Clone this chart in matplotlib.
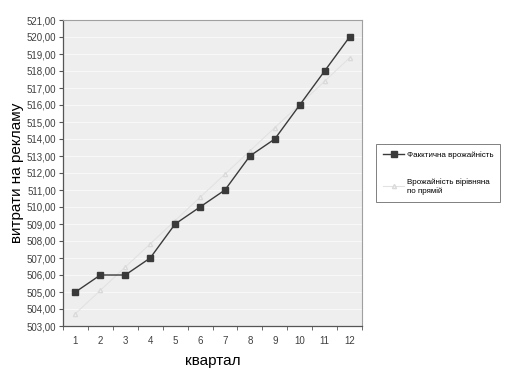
import numpy as np
import matplotlib.pyplot as plt
from matplotlib.ticker import FuncFormatter, FixedLocator

# дані
kvartal = [1, 2, 3, 4, 5, 6, 7, 8, 9, 10, 11, 12]
faktychna = [505, 506, 506, 507, 509, 510, 511, 513, 514, 516, 518, 520]
vyrivniana = [503.73, 505.10, 506.47, 507.83, 509.20, 510.57,
              511.93, 513.30, 514.67, 516.03, 517.40, 518.77]
y_ticks = [503, 504, 505, 506, 507, 508, 509, 510, 511, 512,
           513, 514, 515, 516, 517, 518, 519, 520, 521]

plt.rcParams['font.family'] = ['Liberation Sans', 'DejaVu Sans']

fig = plt.figure(figsize=(5.09, 3.81), dpi=100)
ax = fig.add_axes([63 / 509, 1 - 326 / 381, (362 - 63) / 509, (326 - 20) / 381])

ax.set_facecolor('#eeeeee')
for y in y_ticks:
    ax.axhline(y, color='#f8f8f8', lw=0.8, zorder=0)

ax.plot(kvartal, faktychna, color='#3a3a3a', lw=1.0, marker='s', ms=5,
        mfc='#3a3a3a', mec='#3a3a3a', zorder=3, label='Факктична врожайність')
ax.plot(kvartal, vyrivniana, color='#e2e2e2', lw=0.8, marker='^', ms=3,
        mfc='#f4f4f4', mec='#dadada', zorder=2,
        label='Врожайність вірівняна\nпо прямій')

ax.set_xlim(0.5, 12.5)
ax.set_ylim(503, 521)
ax.set_xticks(kvartal)
ax.xaxis.set_minor_locator(FixedLocator(np.arange(0.5, 13, 1)))
ax.tick_params(axis='x', which='major', length=0, labelsize=7, colors='#404040', pad=7)
ax.tick_params(axis='x', which='minor', length=3, color='#555555', direction='out')
ax.set_yticks(y_ticks)
ax.yaxis.set_major_formatter(FuncFormatter(lambda v, p: f'{v:.2f}'.replace('.', ',')))
ax.tick_params(axis='y', length=3, labelsize=7, colors='#404040', pad=2)
ax.tick_params(axis='y', color='#555555')

for side in ['top', 'right']:
    ax.spines[side].set_color('#a0a0a0')
    ax.spines[side].set_linewidth(0.8)
for side in ['left', 'bottom']:
    ax.spines[side].set_color('#555555')
    ax.spines[side].set_linewidth(0.9)

ax.set_xlabel('квартал', fontsize=11, labelpad=6)
ax.set_ylabel('витрати на рекламу', fontsize=11, labelpad=2)

leg = ax.legend(loc='center left', bbox_to_anchor=(376 / 509, 1 - 173 / 381),
                bbox_transform=fig.transFigure, fontsize=5.8, frameon=True,
                fancybox=False, edgecolor='#606060', labelspacing=2.4,
                handlelength=2.6, borderpad=0.9, borderaxespad=0,
                handletextpad=0.3)
leg.get_frame().set_linewidth(0.7)

plt.savefig('out.png', dpi=100)
